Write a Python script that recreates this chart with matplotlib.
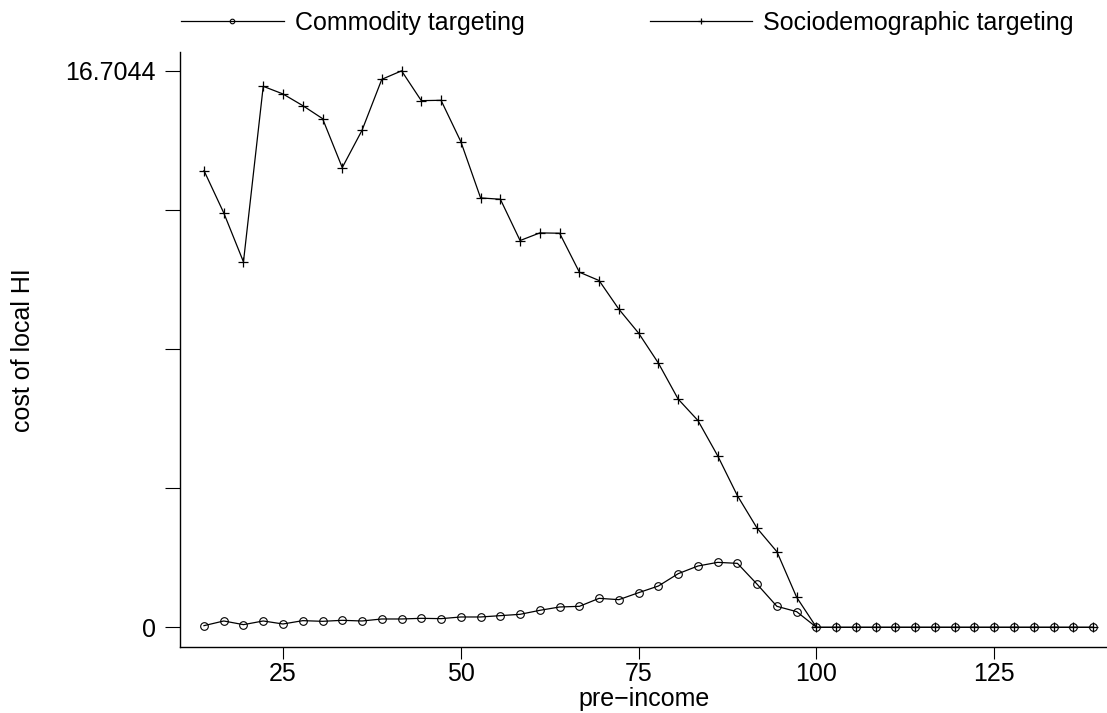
import matplotlib
matplotlib.use('Agg')
import matplotlib.pyplot as plt

plt.rcParams['font.family'] = ['Liberation Sans', 'DejaVu Sans']

# pre-income grid (x)
pre_income = [13.89, 16.67, 19.44, 22.22, 25.00, 27.78, 30.56, 33.33, 36.11, 38.89,
              41.67, 44.44, 47.22, 50.00, 52.78, 55.56, 58.33, 61.11, 63.89, 66.67,
              69.44, 72.22, 75.00, 77.78, 80.56, 83.33, 86.11, 88.89, 91.67, 94.44,
              97.22, 100.00, 102.78, 105.56, 108.33, 111.11, 113.89, 116.67, 119.44,
              122.22, 125.00, 127.78, 130.56, 133.33, 136.11, 138.89]

# cost of local HI
commodity = [0.05, 0.19, 0.08, 0.19, 0.10, 0.20, 0.18, 0.21, 0.19, 0.25,
             0.25, 0.27, 0.26, 0.31, 0.31, 0.35, 0.39, 0.51, 0.61, 0.63,
             0.87, 0.83, 1.04, 1.24, 1.61, 1.84, 1.95, 1.92, 1.29, 0.63,
             0.47, 0, 0, 0, 0, 0, 0, 0, 0, 0, 0, 0, 0, 0, 0, 0]
sociodemo = [13.71, 12.44, 10.97, 16.24, 16.01, 15.66, 15.27, 13.80, 14.92, 16.45,
             16.7044, 15.81, 15.82, 14.58, 12.89, 12.85, 11.61, 11.84, 11.83, 10.66,
             10.41, 9.55, 8.83, 7.93, 6.85, 6.21, 5.15, 3.95, 2.97, 2.27,
             0.90, 0, 0, 0, 0, 0, 0, 0, 0, 0, 0, 0, 0, 0, 0, 0]

ymax = 16.7044
yticks = [0, ymax / 4, ymax / 2, 3 * ymax / 4, ymax]
ylabels = ['0', '', '', '', '16.7044']
xticks = [25, 50, 75, 100, 125]

fig = plt.figure(figsize=(11.07, 7.13), dpi=100)
ax = fig.add_axes([180.3 / 1107, 1 - 647.3 / 713, 1 - 180.3 / 1107, (647.3 - 52) / 713])

ax.plot(pre_income, commodity, color='black', lw=0.9, marker='o', ms=5.5,
        mfc='none', mec='black', mew=0.8, label='Commodity targeting')
ax.plot(pre_income, sociodemo, color='black', lw=0.9, marker='+', ms=7,
        mew=0.9, label='Sociodemographic targeting')

ax.set_xlim(10.56, 140.85)
ax.set_ylim(-0.60, 17.27)
ax.set_xticks(xticks)
ax.set_yticks(yticks)
ax.set_yticklabels(ylabels)
ax.spines['top'].set_visible(False)
ax.spines['right'].set_visible(False)
for s in ['left', 'bottom']:
    ax.spines[s].set_linewidth(1.0)
ax.tick_params(axis='y', length=10.5, width=0.8, pad=7, labelsize=18)
ax.tick_params(axis='x', length=8.5, width=0.8, pad=2, labelsize=18)

ax.set_xlabel('pre\u2212income', fontsize=18, labelpad=1)
ax.set_ylabel('cost of local HI', fontsize=18, labelpad=0)
ax.yaxis.set_label_coords(-(180.3 - 23) / (1107 - 180.3), 0.5)
ax.yaxis.label.set_va('center')

fig.legend(loc='center left', bbox_to_anchor=(181 / 1107, 1 - 23 / 713), ncol=2,
           frameon=False, fontsize=18, handlelength=4.1, handletextpad=0.45,
           columnspacing=5.0, borderpad=0, borderaxespad=0, markerscale=0.6,
           numpoints=1)

fig.savefig('out.png', dpi=100)
